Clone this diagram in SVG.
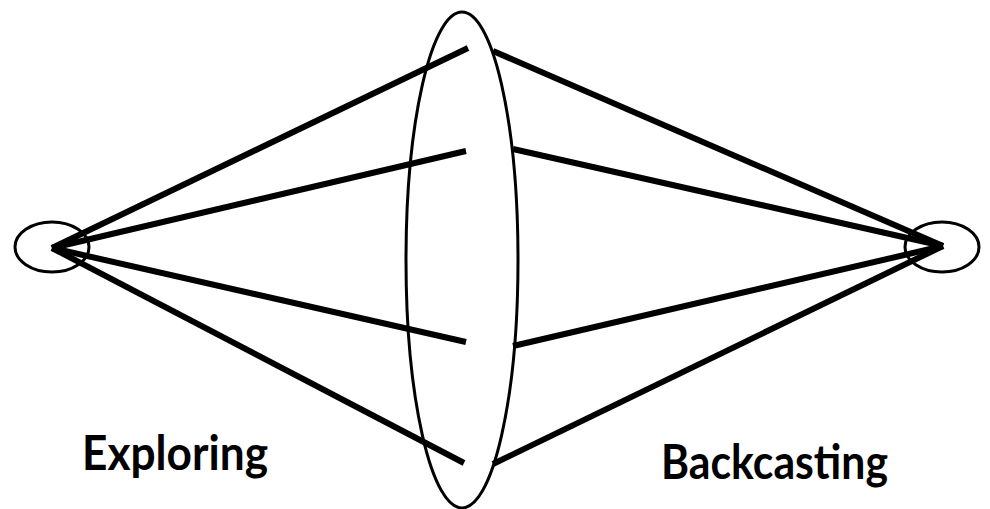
<svg xmlns="http://www.w3.org/2000/svg" width="990" height="509" viewBox="0 0 990 509">
<style>
.ell{fill:none;stroke:#000;stroke-width:3}
.ln{stroke:#000;stroke-width:6;stroke-linecap:butt}
.lbl{font-family:Lato,"Open Sans",sans-serif;font-weight:bold;font-size:48px;fill:#000}
</style>
<rect width="990" height="509" fill="#fff"/>
<g id="connectors">
<line class="ln" x1="52" y1="248" x2="468" y2="48"/>
<line class="ln" x1="52" y1="248" x2="466" y2="151"/>
<line class="ln" x1="52" y1="248" x2="466" y2="342"/>
<line class="ln" x1="52" y1="248" x2="464" y2="463"/>
<line class="ln" x1="493" y1="51" x2="943" y2="246"/>
<line class="ln" x1="513" y1="149" x2="943" y2="246"/>
<line class="ln" x1="513" y1="346" x2="943" y2="246"/>
<line class="ln" x1="493" y1="464" x2="943" y2="246"/>
</g>
<g id="start"><ellipse class="ell" cx="52" cy="247" rx="37" ry="25"/></g>
<g id="end"><ellipse class="ell" cx="942" cy="247" rx="37" ry="25"/></g>
<g id="futures"><ellipse class="ell" cx="462" cy="260" rx="56" ry="248"/></g>
<g id="label-exploring"><text class="lbl" x="82" y="470" textLength="186" lengthAdjust="spacingAndGlyphs">Exploring</text></g>
<g id="label-backcasting"><text class="lbl" x="661" y="479" textLength="227" lengthAdjust="spacingAndGlyphs">Backcasting</text></g>
</svg>
